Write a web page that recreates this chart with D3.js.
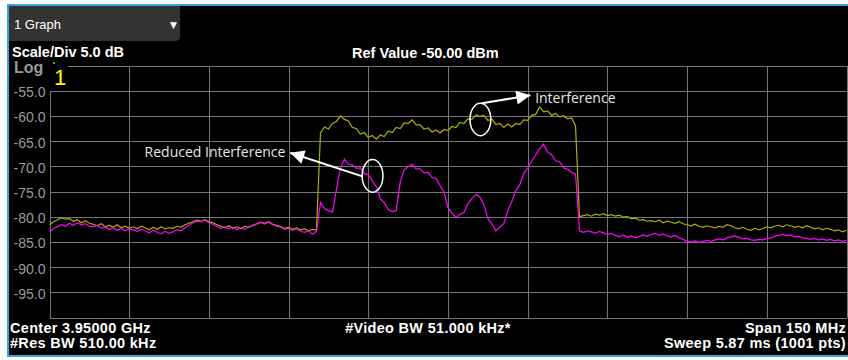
<!DOCTYPE html>
<html>
<head>
<meta charset="utf-8">
<script src="https://cdn.jsdelivr.net/npm/d3@7"></script>
<style>
  body { margin: 0; background: #fff; }
  svg { display: block; }
  text { font-family: "Liberation Sans", Arial, sans-serif; }
</style>
</head>
<body>
<div id="chart"></div>
<script>
'use strict';

// sweep settings (MHz / dBm)
var freqStart = 3875;
var freqStop = 4025;
var refLevel = -50;
var bottomLevel = -100;
var levelLabels = [-55, -60, -65, -70, -75, -80, -85, -90, -95];

// trace 1 (olive) - with interference, 201 points across the span
var interference = [
  -81.6, -81.0, -80.6, -80.2, -80.5, -80.4, -80.9, -80.6, -81.2, -80.8,
  -81.3, -81.5, -81.8, -81.4, -82.0, -81.7, -82.1, -81.6, -82.2, -81.9,
  -82.3, -82.0, -82.4, -81.9, -82.2, -82.6, -82.1, -82.5, -82.0, -82.4,
  -82.2, -82.3, -81.9, -82.1, -81.6, -81.3, -81.0, -80.7, -80.9, -80.6,
  -81.0, -81.2, -81.6, -81.9, -82.2, -81.8, -82.3, -82.0, -82.4, -81.9,
  -82.1, -81.7, -81.4, -81.1, -81.3, -81.0, -81.5, -81.7, -82.0, -82.3,
  -82.1, -82.5, -82.2, -82.6, -82.4, -82.8, -82.5, -82.7, -63.4, -62.2,
  -62.6, -61.5, -61.1, -60.0, -60.7, -61.0, -62.3, -62.5, -63.6, -63.3,
  -64.3, -63.9, -64.6, -63.8, -64.1, -63.0, -63.3, -62.3, -62.5, -61.4,
  -61.5, -60.8, -61.8, -61.8, -62.6, -62.4, -63.2, -62.8, -63.4, -62.7,
  -62.9, -62.1, -62.3, -61.3, -61.5, -60.6, -60.7, -59.8, -60.1, -59.9,
  -60.9, -60.6, -61.7, -61.5, -62.3, -61.6, -62.2, -61.5, -61.7, -60.8,
  -60.9, -59.9, -59.7, -58.2, -59.2, -59.0, -59.9, -59.5, -60.2, -60.0,
  -60.6, -60.4, -62.0, -80.0, -79.8, -79.6, -79.9, -79.5, -79.7, -79.4,
  -79.8, -79.6, -79.9, -79.7, -80.1, -80.0, -80.4, -80.3, -80.7, -80.6,
  -80.9, -80.8, -81.0, -80.7, -81.2, -80.9, -81.1, -81.3, -81.0, -81.4,
  -81.6, -81.8, -81.5, -81.9, -82.1, -81.8, -82.0, -82.2, -81.9, -82.1,
  -81.6, -81.8, -82.2, -82.4, -82.1, -82.5, -82.7, -82.3, -82.6, -82.4,
  -82.0, -82.2, -81.9, -81.7, -82.0, -81.6, -81.8, -82.1, -81.9, -82.2,
  -81.8, -82.1, -82.4, -82.2, -82.6, -82.3, -82.5, -82.8, -82.6, -83.0, -82.7
];

// trace 2 (magenta) - reduced interference
var reduced = [
  -83.0, -82.4, -82.0, -81.6, -81.9, -81.3, -81.7, -81.2, -81.6, -81.4,
  -81.9, -82.0, -81.7, -82.3, -82.0, -82.5, -82.2, -82.7, -82.3, -82.8,
  -82.4, -82.6, -82.9, -82.5, -82.8, -83.2, -82.7, -83.1, -83.4, -82.9,
  -83.3, -83.0, -82.6, -82.8, -82.2, -81.7, -81.2, -80.9, -81.0, -80.7,
  -81.2, -81.5, -81.9, -82.3, -82.0, -82.4, -82.1, -82.6, -82.2, -82.5,
  -82.0, -81.8, -81.5, -81.2, -81.4, -81.1, -81.6, -81.9, -82.1, -82.5,
  -82.3, -82.7, -82.4, -82.9, -83.1, -82.8, -83.5, -82.9, -77.2, -78.4,
  -78.8, -79.1, -74.6, -70.4, -68.6, -69.6, -69.7, -70.4, -70.3, -71.5,
  -71.6, -72.9, -74.0, -76.4, -77.2, -78.6, -79.0, -78.8, -73.2, -70.7,
  -70.1, -69.6, -70.5, -70.5, -71.3, -71.2, -72.2, -72.4, -73.8, -75.1,
  -78.2, -79.3, -80.2, -79.5, -79.2, -77.4, -76.4, -75.6, -76.1, -77.6,
  -80.4, -81.4, -82.8, -82.1, -81.4, -78.8, -77.0, -74.8, -73.7, -71.4,
  -70.4, -69.0, -67.8, -66.5, -65.6, -67.2, -67.7, -68.9, -69.1, -70.3,
  -70.6, -71.2, -71.5, -82.8, -83.1, -82.8, -83.0, -83.3, -82.9, -83.2,
  -83.5, -83.3, -83.7, -84.0, -83.6, -84.1, -83.8, -84.2, -83.9, -83.6,
  -83.9, -83.5, -83.3, -83.7, -83.4, -83.8, -84.0, -83.7, -84.2, -84.5,
  -84.9, -85.0, -84.8, -85.1, -84.9, -84.7, -84.9, -84.6, -84.4, -84.6,
  -84.2, -84.0, -83.8, -84.1, -84.4, -84.3, -84.6, -84.7, -84.5, -84.6,
  -84.3, -84.2, -83.9, -83.7, -83.5, -83.8, -83.6, -84.0, -83.9, -84.2,
  -84.3, -84.5, -84.3, -84.6, -84.4, -84.7, -84.5, -84.8, -84.6, -84.9, -84.7
];

// callouts, in MHz / dBm
var notes = [
  { text: 'Interference', ellipse: [3956.1, -60.7], from: [3956.4, -57.5], to: [3965.5, -55.9], label: [3966.4, -57.4], anchor: 'start' },
  { text: 'Reduced Interference', ellipse: [3935.8, -71.9], from: [3933.9, -72.0], to: [3920.3, -67.3], label: [3919.4, -68.1], anchor: 'end' }
];

var footerLeft = ['Center 3.95000 GHz', '#Res BW 510.00 kHz'];
var footerRight = ['Span 150 MHz', 'Sweep 5.87 ms (1001 pts)'];

function render() {
  var width = 848, height = 360;
  var gridColor = '#767676';

  var svg = d3.select('#chart').append('svg')
    .attr('width', width)
    .attr('height', height);

  // instrument panel
  svg.append('rect').attr('x', 8).attr('y', 5).attr('width', 840).attr('height', 351).attr('fill', '#000');
  svg.append('path')
    .attr('d', 'M848,5 H8 V356 H848')
    .attr('fill', 'none')
    .attr('stroke', '#3aa5dc')
    .attr('stroke-width', 2);

  var x = d3.scaleLinear().domain([freqStart, freqStop]).range([49.5, 846.5]);
  var y = d3.scaleLinear().domain([bottomLevel, refLevel]).range([317.5, 65.5]);
  var plotW = x.range()[1] - x.range()[0];
  var plotH = y.range()[0] - y.range()[1];

  var divs = d3.range(11).map(function(k) { return freqStart + k * (freqStop - freqStart) / 10; });
  var levels = d3.range(bottomLevel, refLevel + 1, 5);

  svg.append('g')
    .attr('transform', 'translate(0,' + y.range()[0] + ')')
    .call(d3.axisBottom(x).tickValues(divs).tickSize(-plotH).tickSizeOuter(0).tickFormat(''));
  svg.append('g')
    .attr('transform', 'translate(' + x.range()[0] + ',0)')
    .call(d3.axisLeft(y).tickValues(levels).tickSize(-plotW).tickSizeOuter(0).tickFormat(''));
  svg.selectAll('.domain, .tick line')
    .attr('stroke', gridColor)
    .attr('shape-rendering', 'crispEdges');

  // the Log/marker corner hides the grid top-left
  svg.append('rect').attr('x', 9).attr('y', 44).attr('width', 59).attr('height', 47).attr('fill', '#000');

  svg.append('g').selectAll('text')
    .data(levelLabels)
    .enter().append('text')
    .attr('x', x.range()[0] - 4)
    .attr('y', function(d) { return y(d) + 6.5; })
    .attr('text-anchor', 'end')
    .attr('fill', '#9b9b9b')
    .style('font-size', '14px')
    .text(function(d) { return d.toFixed(1); });

  // traces
  var step = (freqStop - freqStart) / (interference.length - 1);
  var line = d3.line()
    .x(function(d, i) { return x(freqStart + i * step); })
    .y(function(d) { return y(d); });

  svg.append('path').datum(interference)
    .attr('d', line).attr('fill', 'none')
    .attr('stroke', '#b0b000').attr('stroke-width', 1.2);
  svg.append('path').datum(reduced)
    .attr('d', line).attr('fill', 'none')
    .attr('stroke', '#ff00ff').attr('stroke-width', 1.2);

  // callouts
  svg.append('defs').append('marker')
    .attr('id', 'head')
    .attr('viewBox', '0 0 10 10')
    .attr('refX', 10).attr('refY', 5)
    .attr('markerWidth', 17).attr('markerHeight', 14)
    .attr('markerUnits', 'userSpaceOnUse')
    .attr('orient', 'auto')
    .append('path').attr('d', 'M0,0 L10,5 L0,10 Z').attr('fill', '#fff');

  var note = svg.append('g').selectAll('g').data(notes).enter().append('g');
  note.append('ellipse')
    .attr('cx', function(d) { return x(d.ellipse[0]); })
    .attr('cy', function(d) { return y(d.ellipse[1]); })
    .attr('rx', 10.4).attr('ry', 16.3)
    .attr('fill', 'none').attr('stroke', '#fff').attr('stroke-width', 1.5);
  note.append('line')
    .attr('x1', function(d) { return x(d.from[0]); })
    .attr('y1', function(d) { return y(d.from[1]); })
    .attr('x2', function(d) { return x(d.to[0]); })
    .attr('y2', function(d) { return y(d.to[1]); })
    .attr('stroke', '#fff').attr('stroke-width', 2)
    .attr('marker-end', 'url(#head)');
  note.append('text')
    .attr('x', function(d) { return x(d.label[0]); })
    .attr('y', function(d) { return y(d.label[1]); })
    .attr('text-anchor', function(d) { return d.anchor; })
    .attr('fill', '#e8e8e8')
    .style('font-family', '"Open Sans", sans-serif')
    .style('font-size', '14px')
    .text(function(d) { return d.text; });

  // header
  svg.append('path')
    .attr('d', 'M9,6 H180 V36 Q180,41 175,41 H9 Z')
    .attr('fill', '#333');
  svg.append('text').attr('x', 14).attr('y', 29).attr('fill', '#fff')
    .style('font-size', '13px').text('1 Graph');
  svg.append('text').attr('x', 170).attr('y', 28).attr('fill', '#fff')
    .style('font-family', '"DejaVu Sans", sans-serif')
    .style('font-size', '9px').text('\u25BC');

  var bold = function(sel, size) {
    return sel.attr('fill', '#fff').style('font-weight', 'bold').style('font-size', size);
  };
  bold(svg.append('text').attr('x', 12).attr('y', 57), '14.5px').text('Scale/Div 5.0 dB');
  bold(svg.append('text').attr('x', 352).attr('y', 57.5), '14.5px').text('Ref Value -50.00 dBm');

  svg.append('text').attr('x', 14).attr('y', 73).attr('fill', '#999')
    .style('font-weight', 'bold').style('font-size', '16px').text('Log');
  svg.append('text').attr('x', 54).attr('y', 85).attr('fill', '#ffff00')
    .style('font-size', '22px').text('1');
  svg.append('rect').attr('x', 53).attr('y', 62).attr('width', 2).attr('height', 2).attr('fill', '#2c2');

  // footer
  svg.append('g').selectAll('text').data(footerLeft).enter().append('text')
    .call(bold, '14.5px')
    .style('letter-spacing', '0.3px')
    .attr('x', 10)
    .attr('y', function(d, i) { return 332.8 + i * 15.5; })
    .text(function(d) { return d; });
  svg.append('g').selectAll('text').data(footerRight).enter().append('text')
    .call(bold, '14.5px')
    .style('letter-spacing', '0.3px')
    .attr('x', 846)
    .attr('y', function(d, i) { return 332.8 + i * 15.5; })
    .attr('text-anchor', 'end')
    .text(function(d) { return d; });
  bold(svg.append('text').attr('x', 428).attr('y', 332.8), '14.5px')
    .style('letter-spacing', '0.3px')
    .attr('text-anchor', 'middle')
    .text('#Video BW 51.000 kHz*');
}

render();
</script>
</body>
</html>
